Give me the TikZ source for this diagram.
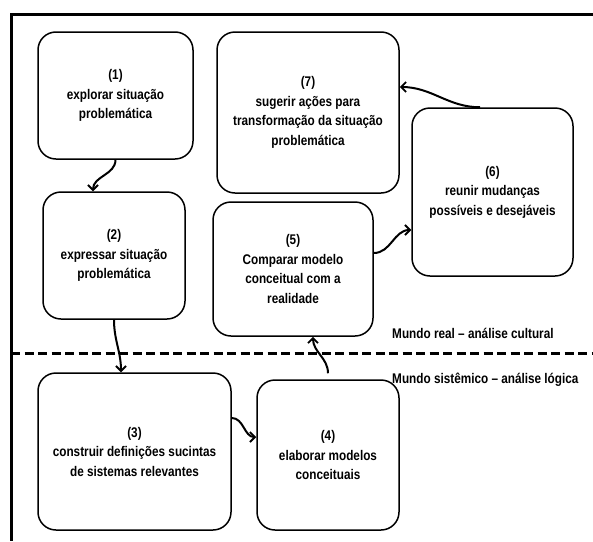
\documentclass[tikz,border=0pt]{standalone}
\usepackage{fontspec}
\setmainfont{Liberation Sans}[FakeStretch=0.84]
\usepackage{tikz}
\usetikzlibrary{arrows.meta}

\begin{document}
\begin{tikzpicture}[x=1pt,y=-1pt,
	etapa/.style={draw,line width=1.5pt,rounded corners=18pt,align=center,
		font=\bfseries\fontsize{14}{19.5}\selectfont,inner sep=2pt},
	seta/.style={line width=2pt,-{Straight Barb[length=5pt,width=10pt,line width=1.8pt]}},
	mundo/.style={anchor=west,font=\bfseries\fontsize{14}{16}\selectfont,inner sep=0pt}]
	\useasboundingbox (0,0) rectangle (593,541);
	
	%FRAME
	\draw[line width=3pt] (593,14)--(11,14)--(11,541);
	\draw[line width=3pt,dash pattern=on 9pt off 4.5pt] (11,353)--(593,353);
	
	%STAGES
	\node[etapa,minimum width=155pt,minimum height=127pt] (explorar) at (115.5,95.5) {(1)\\explorar situação\\problemática};
	\node[etapa,minimum width=142pt,minimum height=127pt] (expressar) at (114,255.5) {(2)\\expressar situação\\problemática};
	\node[etapa,minimum width=193pt,minimum height=157pt] (definir) at (134.5,451.5) {(3)\\construir definições sucintas\\de sistemas relevantes};
	\node[etapa,minimum width=142pt,minimum height=150pt] (modelar) at (328,455) {(4)\\elaborar modelos\\conceituais};
	\node[etapa,minimum width=160pt,minimum height=134pt] (comparar) at (293,269) {(5)\\Comparar modelo\\conceitual com a\\realidade};
	\node[etapa,minimum width=161pt,minimum height=168pt] (mudancas) at (492.5,192) {(6)\\reunir mudanças\\possíveis e desejáveis};
	\node[etapa,minimum width=182pt,minimum height=161pt] (acoes) at (308,112.5) {(7)\\sugerir ações para\\transformação da situação\\problemática};
	
	%WORLDS
	\node[mundo] (real) at (392,333) {Mundo real -- análise cultural};
	\node[mundo] (sistemico) at (392,380) {Mundo sistêmico -- análise lógica};
	
	%ARROWS
	\draw[seta] (explorar.south) to[out=-90,in=90] ([xshift=-21pt]expressar.north);
	\draw[seta] (expressar.south) to[out=-90,in=90] ([xshift=-13.5pt]definir.north);
	\draw[seta] ([yshift=33.5pt]definir.east) to[out=0,in=180] ([yshift=18pt]modelar.west);
	\draw[seta] ([yshift=6pt]modelar.north) to[out=90,in=-90] ([xshift=20pt]comparar.south);
	\draw[seta] ([yshift=16pt]comparar.east) to[out=0,in=180] ([yshift=-38pt]mudancas.west);
	\draw[seta] ([xshift=-12.5pt]mudancas.north) to[out=180,in=0] ([yshift=25.5pt]acoes.east);
\end{tikzpicture}
\end{document}
